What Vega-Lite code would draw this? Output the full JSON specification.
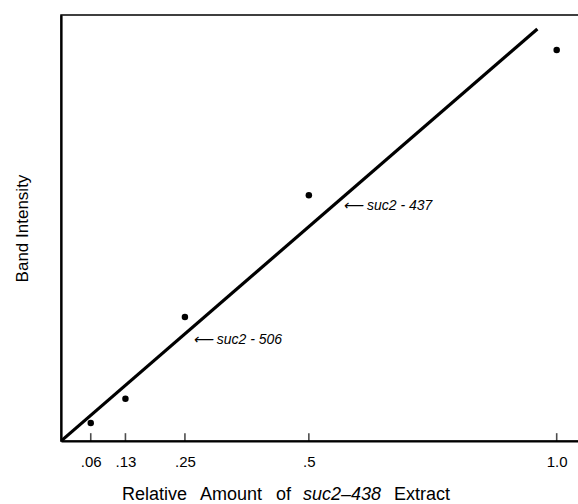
{
  "$schema": "https://vega.github.io/schema/vega-lite/v6.json",
  "width": 518,
  "height": 426,
  "autosize": {"type": "none"},
  "padding": {"left": 61, "top": 15, "right": 0, "bottom": 63},
  "background": "white",
  "config": {
    "view": {"stroke": "black", "strokeWidth": 1.5},
    "font": "Liberation Sans"
  },
  "datasets": {
    "points": [
      {"amount": 0.06, "intensity": 4.2},
      {"amount": 0.13, "intensity": 9.9},
      {"amount": 0.25, "intensity": 29.1},
      {"amount": 0.5, "intensity": 57.7},
      {"amount": 1.0, "intensity": 91.8}
    ],
    "tickmarks": [
      {"amount": 0.06},
      {"amount": 0.13},
      {"amount": 0.25},
      {"amount": 0.5},
      {"amount": 1.0}
    ],
    "fit": [
      {"amount": 0, "intensity": 0},
      {"amount": 0.961, "intensity": 96.7}
    ],
    "labels": [
      {"amount": 0.569, "intensity": 55.2, "label": "⟵ suc2 - 437"},
      {"amount": 0.266, "intensity": 23.7, "label": "⟵ suc2 - 506"}
    ],
    "titleRoman": [
      {"amount": 0.1231, "intensity": -13.9, "word": "Relative"},
      {"amount": 0.2805, "intensity": -13.9, "word": "Amount"},
      {"amount": 0.4338, "intensity": -13.9, "word": "of"},
      {"amount": 0.6719, "intensity": -13.9, "word": "Extract"}
    ],
    "titleItalic": [
      {"amount": 0.4883, "intensity": -13.9, "word": "suc2–438"}
    ]
  },
  "layer": [
    {
      "data": {"name": "fit"},
      "mark": {"type": "line", "color": "black", "strokeWidth": 3.2, "clip": true},
      "encoding": {
        "x": {
          "field": "amount", "type": "quantitative",
          "scale": {"domain": [0, 1.045], "nice": false, "zero": false},
          "axis": {
            "values": [0.06, 0.13, 0.25, 0.5, 1.0],
            "labelExpr": "datum.value == 1 ? '1.0' : replace(format(datum.value, '.2~f'), '0.', '.')",
            "grid": false,
            "domainColor": "black", "domainWidth": 2.2,
            "ticks": false,
            "labelColor": "black", "labelFontSize": 15, "labelFont": "Liberation Sans",
            "labelPadding": 13,
            "title": null
          }
        },
        "y": {
          "field": "intensity", "type": "quantitative",
          "scale": {"domain": [0, 100], "nice": false, "zero": false},
          "axis": {
            "grid": false, "ticks": false, "labels": false,
            "domainColor": "black", "domainWidth": 2.2,
            "title": "Band Intensity",
            "titleFont": "Liberation Sans", "titleFontSize": 17, "titleFontWeight": "normal",
            "titleColor": "black", "titlePadding": 30
          }
        }
      }
    },
    {
      "data": {"name": "tickmarks"},
      "mark": {"type": "tick", "orient": "vertical", "color": "black", "thickness": 1.6, "size": 8},
      "encoding": {
        "x": {"field": "amount", "type": "quantitative"},
        "y": {"datum": 0.9}
      }
    },
    {
      "data": {"name": "points"},
      "mark": {"type": "point", "filled": true, "color": "black", "opacity": 1, "size": 42},
      "encoding": {
        "x": {"field": "amount", "type": "quantitative"},
        "y": {"field": "intensity", "type": "quantitative"}
      }
    },
    {
      "data": {"name": "labels"},
      "mark": {"type": "text", "align": "left", "baseline": "middle", "fontStyle": "italic", "fontSize": 14, "color": "black", "font": "Liberation Sans"},
      "encoding": {
        "x": {"field": "amount", "type": "quantitative"},
        "y": {"field": "intensity", "type": "quantitative"},
        "text": {"field": "label"}
      }
    },
    {
      "data": {"name": "titleRoman"},
      "mark": {"type": "text", "align": "left", "baseline": "alphabetic", "fontSize": 18, "color": "black", "font": "Liberation Sans"},
      "encoding": {
        "x": {"field": "amount", "type": "quantitative"},
        "y": {"field": "intensity", "type": "quantitative"},
        "text": {"field": "word"}
      }
    },
    {
      "data": {"name": "titleItalic"},
      "mark": {"type": "text", "align": "left", "baseline": "alphabetic", "fontSize": 18, "fontStyle": "italic", "color": "black", "font": "Liberation Sans"},
      "encoding": {
        "x": {"field": "amount", "type": "quantitative"},
        "y": {"field": "intensity", "type": "quantitative"},
        "text": {"field": "word"}
      }
    }
  ]
}
